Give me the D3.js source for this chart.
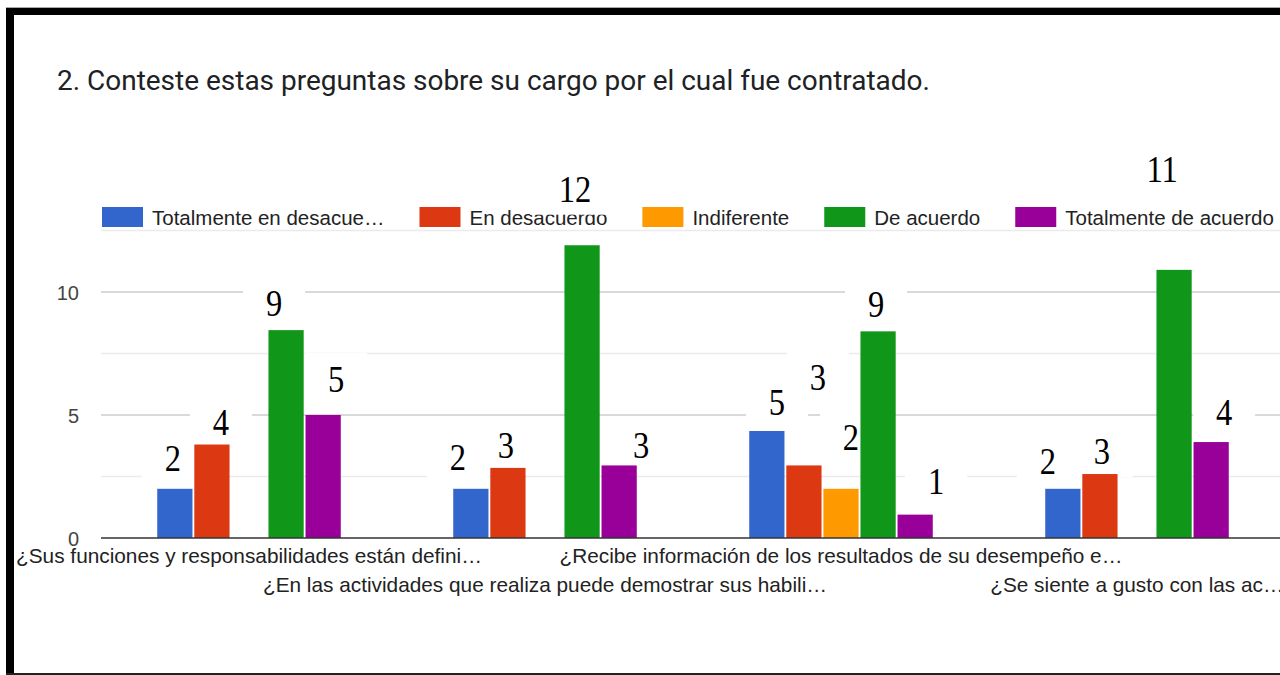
<!DOCTYPE html>
<meta charset="utf-8">
<style>
  body { margin: 0; background: #fff; }
  svg { display: block; }
</style>
<body>
<script src="https://d3js.org/d3.v7.min.js"></script>
<script>

// categories, as truncated in the chart
var questions = [
  "¿Sus funciones y responsabilidades están defini…",
  "¿En las actividades que realiza puede demostrar sus habili…",
  "¿Recibe información de los resultados de su desempeño e…",
  "¿Se siente a gusto con las ac…"
];

var seriesNames = ["Totalmente en desacue…", "En desacuerdo", "Indiferente", "De acuerdo", "Totalmente de acuerdo"];
var seriesColors = ["#3366cc", "#dc3912", "#ff9900", "#109618", "#990099"];

// bar heights as they are drawn
var totDesacuerdo = [2, 2, 4.35, 2];
var desacuerdo    = [3.8, 2.85, 2.95, 2.6];
var indiferente   = [0, 0, 2, 0];
var deAcuerdo     = [8.45, 11.9, 8.4, 10.9];
var totAcuerdo    = [5, 2.95, 0.95, 3.9];

// the counts written over the bars
var countLabels = [
  ["2", "4", "", "9", "5"],
  ["2", "3", "", "12", "3"],
  ["5", "3", "2", "9", "1"],
  ["2", "3", "", "11", "4"]
];

var yTicks = [0, 5, 10];
var gridTicks = [2.5, 5, 7.5, 10, 12.5];

var title = "2. Conteste estas preguntas sobre su cargo por el cual fue contratado.";

var W = 1280, H = 675;
var series = [totDesacuerdo, desacuerdo, indiferente, deAcuerdo, totAcuerdo];

var svg = d3.select("body").append("svg")
    .attr("width", W)
    .attr("height", H);

svg.append("rect").attr("width", W).attr("height", H).attr("fill", "#fff");

// frame
svg.append("rect").attr("x", 6).attr("y", 7).attr("width", W - 6).attr("height", 1).attr("fill", "#aaa");
svg.append("rect").attr("x", 6).attr("y", 8).attr("width", W - 6).attr("height", 7).attr("fill", "#000");
svg.append("rect").attr("x", 6).attr("y", 8).attr("width", 8).attr("height", H - 8).attr("fill", "#000");
svg.append("rect").attr("x", 6).attr("y", 673).attr("width", W - 6).attr("height", 2).attr("fill", "#222");

// title, fitted to the width it has in the picture
var t = svg.append("text")
    .attr("x", 57)
    .attr("y", 90)
    .style("font-family", "Roboto, 'Open Sans', sans-serif")
    .style("font-size", "24px")
    .attr("fill", "#202124")
    .text(title);
var tw = t.node().getComputedTextLength();
t.style("font-size", (24 * 873 / tw) + "px");

// scales
var x0 = d3.scaleBand()
    .domain(d3.range(questions.length))
    .range([101, 101 + 296 * questions.length])
    .paddingInner(0.38)
    .paddingOuter(0.19);

var x1 = d3.scaleBand()
    .domain(d3.range(seriesNames.length))
    .range([0, x0.bandwidth()])
    .paddingInner(0.05);

var y = d3.scaleLinear()
    .domain([0, 12.5])
    .range([538, 230.5]);

// gridlines
svg.append("g").selectAll("line")
  .data(gridTicks)
  .enter().append("line")
    .attr("x1", 101).attr("x2", W)
    .attr("y1", function(d) { return y(d); })
    .attr("y2", function(d) { return y(d); })
    .attr("stroke", function(d) { return d % 5 === 0 ? "#cccccc" : "#ebebeb"; })
    .attr("stroke-width", 1.5);

// y axis labels
var yAxis = svg.append("g")
    .attr("transform", "translate(79,0)")
    .call(d3.axisLeft(y).tickValues(yTicks).tickSize(0).tickPadding(0));
yAxis.select(".domain").remove();
yAxis.selectAll("text")
    .attr("dy", "0.38em")
    .style("font-family", "'Liberation Sans', Arial, sans-serif")
    .style("font-size", "20px")
    .attr("fill", "#444");

// legend
var lx = 102;
seriesNames.forEach(function(name, i) {
  svg.append("rect")
      .attr("x", lx).attr("y", 207)
      .attr("width", 41).attr("height", 20)
      .attr("fill", seriesColors[i]);
  var lt = svg.append("text")
      .attr("x", lx + 50).attr("y", 225)
      .style("font-family", "'Liberation Sans', Arial, sans-serif")
      .style("font-size", "20.5px")
      .attr("fill", "#222")
      .text(name);
  lx += 50 + lt.node().getComputedTextLength() + 35;
});

// where each pasted number sits: shift from the bar centre (px) and height (value units)
var noteDx = [
  [-2, 9, 0, -12, 13],
  [-13, -2, 0, -7, 22],
  [10, 14, 10, -2, 21],
  [-15, 2, 0, -12, 13]
];
var noteAt = [
  [3.25, 4.72, 0, 9.56, 6.46],
  [3.29, 3.78, 0, 14.2, 3.78],
  [5.53, 6.54, 4.1, 9.51, 2.32],
  [3.13, 3.54, 0, 15.0, 5.12]
];

var notes = [];
countLabels.forEach(function(row, gi) {
  row.forEach(function(txt, si) {
    if (!txt) return;
    notes.push({
      text: txt,
      cx: x0(gi) + x1(si) + x1.bandwidth() / 2 + noteDx[gi][si],
      cy: y(noteAt[gi][si])
    });
  });
});

// white patches behind the pasted numbers
svg.append("g").selectAll("rect")
  .data(notes)
  .enter().append("rect")
    .attr("x", function(d) { return d.cx - (d.text.length > 1 ? 45 : 31); })
    .attr("y", function(d) { return d.cy - 26; })
    .attr("width", function(d) { return d.text.length > 1 ? 90 : 62; })
    .attr("height", 52)
    .attr("fill", "#fff");

// bars
var groups = svg.append("g").selectAll("g")
  .data(questions)
  .enter().append("g")
    .attr("transform", function(d, i) { return "translate(" + x0(i) + ",0)"; });

groups.selectAll("rect")
  .data(function(d, gi) { return series.map(function(s, si) { return {si: si, v: s[gi]}; }); })
  .enter().append("rect")
    .filter(function(d) { return d.v > 0; })
    .attr("x", function(d) { return x1(d.si); })
    .attr("y", function(d) { return y(d.v); })
    .attr("width", x1.bandwidth())
    .attr("height", function(d) { return y(0) - y(d.v); })
    .attr("fill", function(d) { return seriesColors[d.si]; });

// baseline
svg.append("line")
    .attr("x1", 101).attr("x2", W)
    .attr("y1", y(0)).attr("y2", y(0))
    .attr("stroke", "#333").attr("stroke-width", 1.5);

// category labels on two staggered rows
svg.append("g").selectAll("text")
  .data(questions)
  .enter().append("text")
    .attr("x", function(d, i) { return x0(i) + x0.bandwidth() / 2; })
    .attr("y", function(d, i) { return i % 2 === 0 ? 563 : 592; })
    .attr("text-anchor", "middle")
    .style("font-family", "'Liberation Sans', Arial, sans-serif")
    .style("font-size", "20.8px")
    .attr("fill", "#222")
    .text(function(d) { return d; });

// pasted numbers
svg.append("g").selectAll("text")
  .data(notes)
  .enter().append("text")
    .attr("transform", function(d) { return "translate(" + d.cx + "," + d.cy + ") scale(0.88,1)"; })
    .attr("text-anchor", "middle")
    .attr("dy", "0.35em")
    .style("font-family", "'Liberation Serif', 'Times New Roman', serif")
    .style("font-size", "37px")
    .attr("fill", "#000")
    .text(function(d) { return d.text; });

</script>
</body>
